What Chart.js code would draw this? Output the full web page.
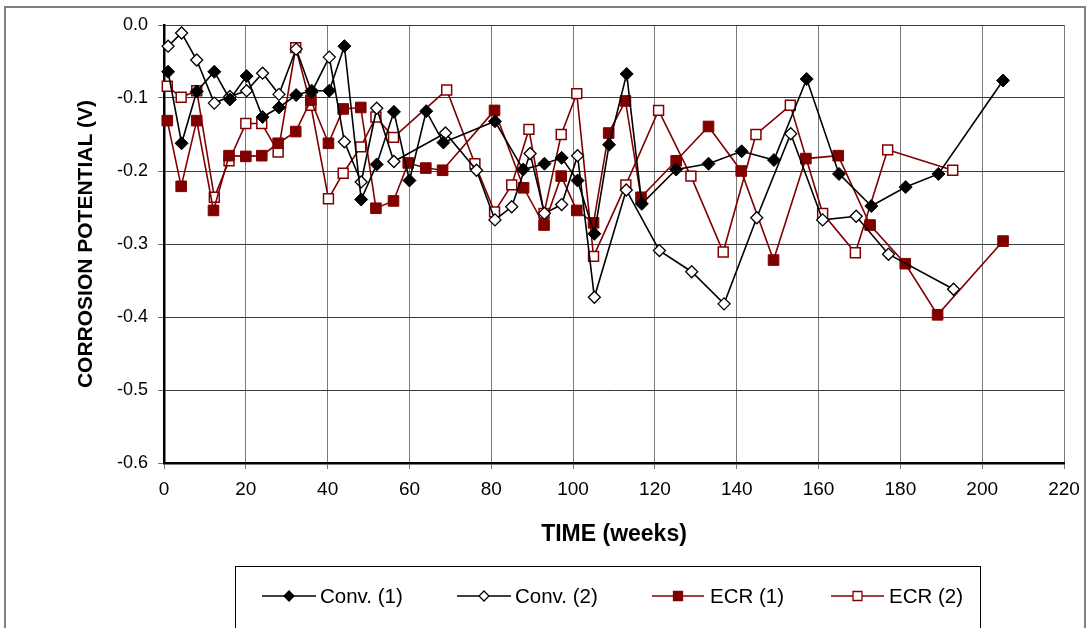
<!DOCTYPE html>
<html><head><meta charset="utf-8">
<script src="https://cdn.jsdelivr.net/npm/chart.js@4.4.1/dist/chart.umd.min.js"></script>
<style>html,body{margin:0;padding:0;background:#fff}#wrap{width:1089px;height:628px;position:relative}</style>
</head><body><div id="wrap"><canvas id="c" width="1089" height="628"></canvas></div>
<script>
// ---- data (weeks, potential V) ----
const conv1Weeks = [1,4.3,8,12.3,16.1,20.2,24.1,28.1,32.3,36.1,40.4,44.1,48.2,52,56.2,60,64.1,68.3,80.9,87.8,93,97.2,101.1,105.2,108.8,113.1,116.8,125.2,133.1,141.2,149.1,157.1,165,172.9,181.3,189.3,205.1];
const conv1Values = [-0.064,-0.162,-0.091,-0.064,-0.102,-0.070,-0.126,-0.113,-0.096,-0.090,-0.090,-0.029,-0.239,-0.191,-0.119,-0.213,-0.118,-0.161,-0.132,-0.198,-0.190,-0.182,-0.213,-0.286,-0.164,-0.067,-0.245,-0.198,-0.190,-0.173,-0.185,-0.074,-0.204,-0.248,-0.222,-0.204,-0.076];

const conv2Weeks = [1,4.3,8,12.3,16.1,20.2,24.1,28.1,32.3,36.1,40.4,44.1,48.2,52,56.2,68.8,76.4,80.9,85,89.5,93,97.2,101.1,105.2,113,121.1,129,136.9,144.9,153.2,161,169.2,177.1,193];
const conv2Values = [-0.029,-0.011,-0.048,-0.107,-0.098,-0.090,-0.066,-0.095,-0.033,-0.092,-0.044,-0.160,-0.215,-0.114,-0.187,-0.148,-0.199,-0.267,-0.249,-0.176,-0.258,-0.246,-0.179,-0.373,-0.226,-0.309,-0.338,-0.382,-0.264,-0.149,-0.267,-0.262,-0.314,-0.362];

const ecr1Weeks = [0.8,4.2,8,12.1,15.9,20,23.9,27.9,32.2,35.9,40.2,43.8,48.1,51.8,56.1,59.7,64,68.1,80.8,87.9,92.9,97.1,100.9,105,108.7,112.8,116.6,125.2,133.1,141.1,149,156.9,164.8,172.6,181.2,189.1,205.1];
const ecr1Values = [-0.131,-0.221,-0.131,-0.254,-0.179,-0.180,-0.179,-0.162,-0.146,-0.103,-0.162,-0.115,-0.113,-0.251,-0.241,-0.189,-0.196,-0.199,-0.117,-0.223,-0.274,-0.207,-0.254,-0.271,-0.148,-0.104,-0.236,-0.186,-0.139,-0.200,-0.322,-0.183,-0.179,-0.274,-0.327,-0.397,-0.296];

const ecr2Weeks = [0.8,4.2,8,12.3,15.9,20,23.9,27.9,32.2,35.9,40.2,43.8,48.1,51.8,56.1,69.1,76,80.8,85,89.2,92.9,97.1,100.9,105,112.9,120.9,128.8,136.7,144.7,153.1,161,169,176.9,192.8];
const ecr2Values = [-0.084,-0.099,-0.090,-0.236,-0.186,-0.135,-0.135,-0.174,-0.031,-0.110,-0.238,-0.203,-0.167,-0.126,-0.154,-0.089,-0.190,-0.256,-0.219,-0.143,-0.258,-0.150,-0.094,-0.317,-0.219,-0.117,-0.207,-0.311,-0.150,-0.110,-0.258,-0.312,-0.171,-0.199];

const seriesLabels = ['Conv. (1)','Conv. (2)','ECR (1)','ECR (2)'];
const xTickValues = [0,20,40,60,80,100,120,140,160,180,200,220];
const yTickLabels = ['0.0','-0.1','-0.2','-0.3','-0.4','-0.5','-0.6'];
const xTitle = 'TIME (weeks)';
const yTitle = 'CORROSION POTENTIAL (V)';

// ---- build ----
const pairs = (w, v) => w.map((x, i) => ({x: x, y: v[i]}));
const BLACK = '#000000', RED = '#800000';
const FONT = '"Liberation Sans", Arial, sans-serif';

const styles = [
  {color: BLACK, point: 'rectRot', fill: BLACK, radius: 6.5, bw: 1},
  {color: BLACK, point: 'rectRot', fill: '#ffffff', radius: 6, bw: 1.3},
  {color: RED, point: 'rect', fill: RED, radius: 7.5, bw: 1},
  {color: RED, point: 'rect', fill: '#ffffff', radius: 7, bw: 1.5},
];
const allData = [pairs(conv1Weeks, conv1Values), pairs(conv2Weeks, conv2Values), pairs(ecr1Weeks, ecr1Values), pairs(ecr2Weeks, ecr2Values)];

const datasets = allData.map((d, i) => ({
  label: seriesLabels[i],
  data: d,
  borderColor: styles[i].color,
  borderWidth: 1.6,
  backgroundColor: styles[i].fill,
  pointStyle: styles[i].point,
  pointRadius: styles[i].radius,
  pointBackgroundColor: styles[i].fill,
  pointBorderColor: styles[i].color,
  pointBorderWidth: styles[i].bw,
  tension: 0,
  fill: false,
  clip: false
}));

const decor = {
  id: 'decor',
  beforeDraw(chart) {
    const c = chart.ctx;
    c.save();
    c.fillStyle = '#fff';
    c.fillRect(0, 0, chart.width, chart.height);
    c.strokeStyle = '#808080';
    c.lineWidth = 2;
    c.strokeRect(5, 7, 1080, 660);
    c.restore();
  },
  afterDraw(chart) {
    const c = chart.ctx;
    c.save();
    // legend box
    c.strokeStyle = '#000';
    c.lineWidth = 1;
    c.strokeRect(235.5, 566.5, 745, 62);
    const items = [
      {x0: 262, x1: 316, tx: 320},
      {x0: 457, x1: 511, tx: 515},
      {x0: 652, x1: 704, tx: 710},
      {x0: 831, x1: 884, tx: 889},
    ];
    const y = 596;
    c.font = '20.5px ' + FONT;
    c.textBaseline = 'middle';
    c.textAlign = 'left';
    items.forEach((it, i) => {
      const s = styles[i];
      c.strokeStyle = s.color;
      c.lineWidth = 1.6;
      c.beginPath();
      c.moveTo(it.x0, y); c.lineTo(it.x1, y); c.stroke();
      const mx = (it.x0 + it.x1) / 2;
      c.fillStyle = s.fill;
      c.lineWidth = 1.3;
      c.beginPath();
      if (s.point === 'rectRot') {
        const r = 5;
        c.moveTo(mx, y - r); c.lineTo(mx + r, y); c.lineTo(mx, y + r); c.lineTo(mx - r, y); c.closePath();
      } else {
        c.rect(mx - 4.5, y - 4.5, 9, 9);
      }
      c.fill(); c.stroke();
      c.fillStyle = '#000';
      c.fillText(seriesLabels[i], it.tx, y + 1);
    });
    c.restore();
  }
};

new Chart(document.getElementById('c').getContext('2d'), {
  type: 'line',
  data: {datasets: datasets},
  plugins: [decor],
  options: {
    responsive: false,
    animation: false,
    devicePixelRatio: 1,
    layout: {padding: {left: 0, top: 25, right: 25, bottom: 73}},
    plugins: {legend: {display: false}, tooltip: {enabled: false}},
    scales: {
      x: {
        type: 'linear', min: 0, max: 220,
        afterBuildTicks(s) { s.ticks = xTickValues.map(v => ({value: v})); },
        afterFit(s) { s.height = 92; },
        ticks: {color: '#000', font: {family: FONT, size: 19}, padding: 9, maxRotation: 0, autoSkip: false},
        grid: {color: '#7a7a7a', lineWidth: 1, tickLength: 6, tickColor: '#777'},
        border: {color: '#000', width: 2.5},
        title: {display: true, text: xTitle, color: '#000', font: {family: FONT, size: 23, weight: 'bold'}, padding: {top: 0, bottom: 7}}
      },
      y: {
        type: 'linear', min: -0.6, max: 0,
        afterBuildTicks(s) { s.ticks = yTickLabels.map((t, i) => ({value: -i / 10})); },
        afterFit(s) { s.width = 164; },
        ticks: {color: '#000', font: {family: FONT, size: 18}, padding: 10, autoSkip: false,
          callback: (v, i) => yTickLabels[Math.round(-v * 10)]},
        grid: {color: '#3a3a3a', lineWidth: 1, tickLength: 6, tickColor: '#777'},
        border: {color: '#000', width: 2.5},
        title: {display: true, text: yTitle, color: '#000', font: {family: FONT, size: 21, weight: 'bold'}, padding: {top: 74, bottom: 0}}
      }
    }
  }
});
</script>
</body></html>
